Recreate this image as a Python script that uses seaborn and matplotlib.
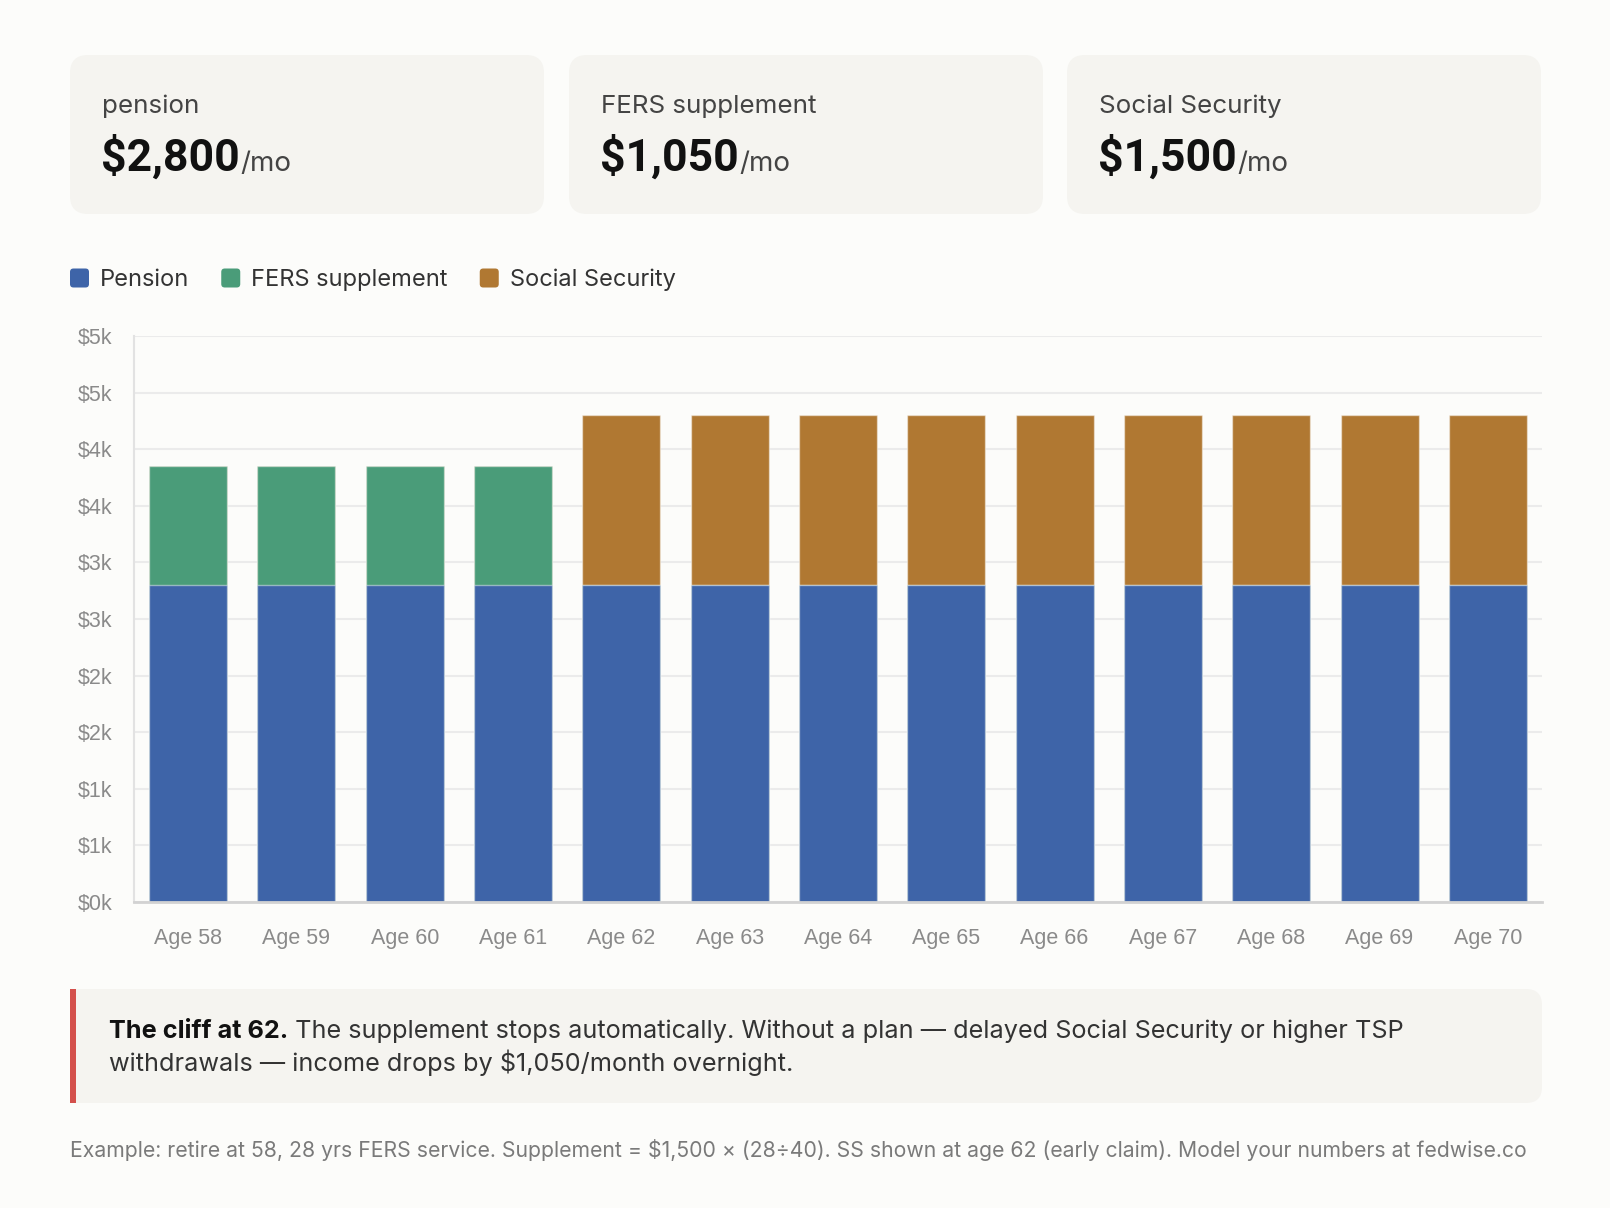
import matplotlib
matplotlib.use("Agg")
import matplotlib.pyplot as plt
import seaborn as sns
import pandas as pd
from matplotlib.patches import FancyBboxPatch, Rectangle

# data
ages = ["Age 58", "Age 59", "Age 60", "Age 61", "Age 62", "Age 63", "Age 64",
        "Age 65", "Age 66", "Age 67", "Age 68", "Age 69", "Age 70"]
pension = [2800, 2800, 2800, 2800, 2800, 2800, 2800, 2800, 2800, 2800, 2800, 2800, 2800]
fers_supplement = [1050, 1050, 1050, 1050, 0, 0, 0, 0, 0, 0, 0, 0, 0]
social_security = [0, 0, 0, 0, 1500, 1500, 1500, 1500, 1500, 1500, 1500, 1500, 1500]

y_ticks = [0, 500, 1000, 1500, 2000, 2500, 3000, 3500, 4000, 4500, 5000]
y_tick_labels = ["$0k", "$1k", "$1k", "$2k", "$2k", "$3k", "$3k", "$4k", "$4k", "$5k", "$5k"]

card_titles = ["pension", "FERS supplement", "Social Security"]
card_values = ["$2,800", "$1,050", "$1,500"]

series_names = ["Pension", "FERS supplement", "Social Security"]

note_bold = "The cliff at 62."
note_line1 = " The supplement stops automatically. Without a plan \u2014 delayed Social Security or higher TSP"
note_line2 = "withdrawals \u2014 income drops by $1,050/month overnight."
footer = ("Example: retire at 58, 28 yrs FERS service. Supplement = $1,500 \u00d7 (28\u00f740). "
          "SS shown at age 62 (early claim). Model your numbers at fedwise.co")

# colours
BLUE = "#3E64A8"
GREEN = "#4A9C79"
BROWN = "#B07832"
CARD = "#F5F4F0"
PAGE = "#FCFCFA"
RED = "#D4504C"

df = pd.DataFrame({"age": ages, "pension": pension,
                   "supplement": fers_supplement, "ss": social_security})
df["pension_supp"] = df["pension"] + df["supplement"]
df["total"] = df["pension_supp"] + df["ss"]

sns.set_theme(style="white")
plt.rcParams["font.family"] = ["Inter", "DejaVu Sans"]

W, H = 1610, 1208
fig = plt.figure(figsize=(W / 100, H / 100), dpi=100, facecolor=PAGE)

# background layer in pixel coordinates
bg = fig.add_axes([0, 0, 1, 1], zorder=0)
bg.set_xlim(0, W)
bg.set_ylim(H, 0)
bg.axis("off")

# main chart
ax = fig.add_axes([134 / W, 1 - 902 / H, (1542 - 134) / W, (902 - 336) / H], zorder=1)
ax.patch.set_alpha(0)

edge = (1, 1, 1, 0.45)
sns.barplot(data=df, x="age", y="total", color=BROWN, saturation=1, width=0.72,
            edgecolor=edge, linewidth=1, ax=ax)
sns.barplot(data=df, x="age", y="pension_supp", color=GREEN, saturation=1, width=0.72,
            edgecolor=edge, linewidth=1, ax=ax)
sns.barplot(data=df, x="age", y="pension", color=BLUE, saturation=1, width=0.72,
            edgecolor=edge, linewidth=1, ax=ax)

ax.set_xlim(-0.5, 12.5)
ax.set_ylim(0, 5000)
ax.set_xlabel("")
ax.set_ylabel("")
ax.set_yticks(y_ticks)
ax.set_yticklabels(y_tick_labels)
ax.yaxis.grid(True, color="#EBEBEB", linewidth=1.5)
ax.set_axisbelow(True)
for s in ["top", "right"]:
    ax.spines[s].set_visible(False)
ax.spines["left"].set_color("#E2E2E2")
ax.spines["left"].set_linewidth(1.5)
ax.spines["bottom"].set_color("#D2D2D2")
ax.spines["bottom"].set_linewidth(2)
ax.tick_params(axis="y", length=11.5, width=1.5, color="#EBEBEB", pad=4.3,
               labelsize=15.5, labelcolor="#8A8A8A")
ax.tick_params(axis="x", length=0, pad=19, labelsize=15.5, labelcolor="#8A8A8A")
for lab in ax.get_xticklabels() + ax.get_yticklabels():
    lab.set_fontfamily(["Liberation Sans", "DejaVu Sans"])

renderer = fig.canvas.get_renderer()


def right_edge(t):
    bb = t.get_window_extent(renderer)
    return bb.x1


# summary cards
card_lefts = [70, 569, 1067]
for left, title, value in zip(card_lefts, card_titles, card_values):
    bg.add_patch(FancyBboxPatch((left, 55), 474, 159,
                                boxstyle="round,pad=0,rounding_size=18",
                                fc=CARD, ec="none"))
    bg.text(left + 32, 113, title, fontsize=18.7, color="#444444", va="baseline")
    tv = bg.text(left + 31, 171, value, fontsize=32, fontweight="bold",
                 color="#111111", va="baseline", family=["Roboto", "DejaVu Sans"])
    bg.text(right_edge(tv) + 1, 171, "/mo", fontsize=20, color="#444444",
            va="baseline")

# legend
x = 70
for name, col in zip(series_names, [BLUE, GREEN, BROWN]):
    bg.add_patch(FancyBboxPatch((x, 268.5), 19, 19,
                                boxstyle="round,pad=0,rounding_size=3.5",
                                fc=col, ec="none"))
    t = bg.text(x + 30, 286, name, fontsize=17, color="#333333", va="baseline")
    x = right_edge(t) + 32

# callout
bg.add_patch(FancyBboxPatch((70, 989), 1472, 114,
                            boxstyle="round,pad=0,rounding_size=16",
                            fc=CARD, ec="none"))
bg.add_patch(Rectangle((70, 989), 30, 114, fc=CARD, ec="none"))
bg.add_patch(Rectangle((70, 989), 6, 114, fc=RED, ec="none"))
tb = bg.text(108.5, 1038, note_bold, fontsize=18.2, fontweight="bold",
             color="#111111", va="baseline")
bg.text(right_edge(tb), 1038, note_line1, fontsize=18.2, color="#333333",
        va="baseline")
bg.text(108.5, 1071, note_line2, fontsize=18.2, color="#333333", va="baseline")

# footer
bg.text(70, 1157, footer, fontsize=15.25, color="#7A7A7A", va="baseline")

fig.savefig("out.png", dpi=100, facecolor=PAGE)
